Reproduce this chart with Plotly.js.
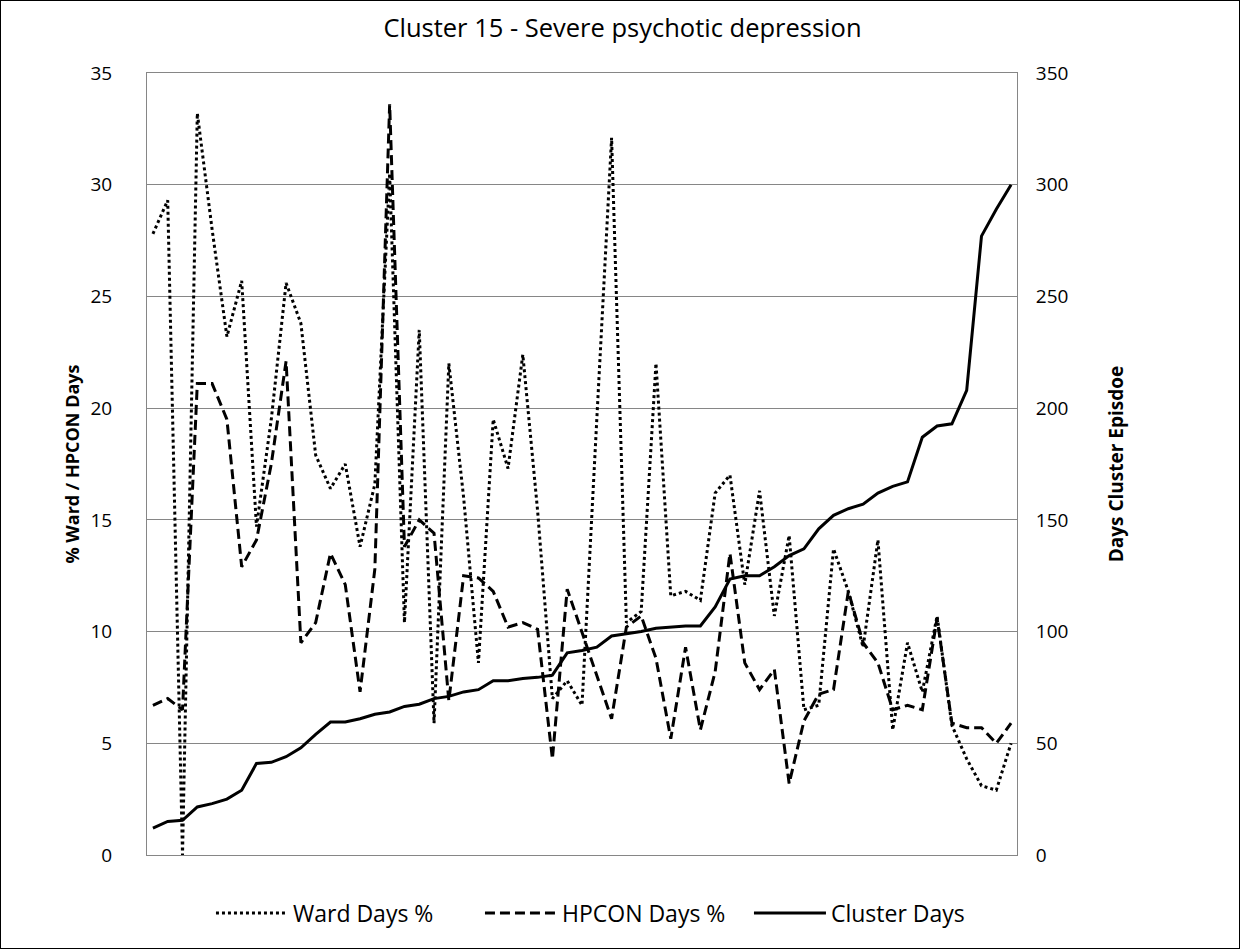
<!DOCTYPE html>
<html>
<head>
<meta charset="utf-8">
<script src="https://cdn.plot.ly/plotly-3.0.1.min.js"></script>
<style>
  html, body { margin: 0; padding: 0; background: #fff; }
  #chart { width: 1238px; height: 947px; border: 1px solid #000; }
</style>
</head>
<body>
<div id="chart"></div>
<script>
// Episode index (category axis, no labels shown)
const episodes = [1,2,3,4,5,6,7,8,9,10,11,12,13,14,15,16,17,18,19,20,
  21,22,23,24,25,26,27,28,29,30,31,32,33,34,35,36,37,38,39,40,
  41,42,43,44,45,46,47,48,49,50,51,52,53,54,55,56,57,58,59];

// Ward Days % (left axis)
const wardDays = [27.8, 29.3, 0, 33.2, 28.0, 23.2, 25.7, 14.7, 19.5, 25.6,
  23.8, 17.9, 16.4, 17.5, 13.8, 16.6, 30.5, 10.4, 23.5, 5.9,
  22.0, 16.0, 8.6, 19.5, 17.3, 22.4, 15.4, 7.0, 7.8, 6.7,
  19.5, 32.1, 10.4, 10.9, 22.0, 11.6, 11.8, 11.4, 16.2, 17.0,
  12.1, 16.3, 10.7, 14.3, 6.5, 6.7, 13.7, 11.8, 9.3, 14.1,
  5.6, 9.5, 7.3, 10.7, 5.8, 4.3, 3.1, 2.9, 5.0];

// HPCON Days % (left axis)
const hpconDays = [6.7, 7.0, 6.5, 21.1, 21.1, 19.5, 12.9, 14.1, 17.5, 22.1,
  9.5, 10.4, 13.5, 12.1, 7.3, 12.8, 33.6, 13.8, 15.0, 14.4,
  6.9, 12.5, 12.4, 11.8, 10.2, 10.4, 10.1, 4.3, 11.9, 10.0,
  8.1, 6.1, 10.2, 10.7, 8.8, 5.2, 9.3, 5.6, 8.2, 13.5,
  8.6, 7.4, 8.3, 3.2, 6.0, 7.2, 7.4, 11.8, 9.5, 8.6,
  6.5, 6.7, 6.5, 10.6, 5.9, 5.7, 5.7, 5.0, 5.9];

// Cluster Days (right axis)
const clusterDays = [12, 15, 15.5, 21.5, 23, 25, 29, 41, 41.5, 44,
  48, 54, 59.5, 59.5, 61, 63, 64, 66.5, 67.5, 70,
  71, 73, 74, 78, 78, 79, 79.5, 80.5, 90.5, 91.5,
  93, 98, 99, 100, 101.5, 102, 102.5, 102.5, 111, 123.5,
  125, 125, 129, 134, 137, 146, 152, 155, 157, 162,
  165, 167, 187, 192, 193, 208, 277, 289, 300];

const leftTicks = [0, 5, 10, 15, 20, 25, 30, 35];
const rightTicks = [0, 50, 100, 150, 200, 250, 300, 350];

const FONT = "'Open Sans', 'Noto Sans', sans-serif";
const GRID = '#868686';

const traces = [
  { x: episodes, y: wardDays, name: 'Ward Days %', type: 'scatter', mode: 'lines',
    line: { color: '#000', width: 3, dash: '3px,3px' }, yaxis: 'y' },
  { x: episodes, y: hpconDays, name: 'HPCON Days %', type: 'scatter', mode: 'lines',
    line: { color: '#000', width: 3, dash: '10px,5px' }, yaxis: 'y' },
  { x: episodes, y: clusterDays, name: 'Cluster Days', type: 'scatter', mode: 'lines',
    line: { color: '#000', width: 3 }, yaxis: 'y2' }
];

const layout = {
  width: 1238, height: 947,
  margin: { l: 146, r: 222, t: 72, b: 93, pad: 0 },
  paper_bgcolor: '#fff', plot_bgcolor: '#fff',
  font: { family: FONT, size: 18, color: '#000' },
  showlegend: true,
  title: { text: 'Cluster 15 - Severe psychotic depression', font: { family: FONT, size: 25.5, color: '#000' },
    x: 0.502, xref: 'container', xanchor: 'center', y: 0.971, yref: 'container', yanchor: 'middle' },
  xaxis: { range: [0.6, 59.4], showticklabels: false, showgrid: false, zeroline: false,
    showline: true, mirror: true, linecolor: GRID, linewidth: 1, ticks: '', fixedrange: true },
  yaxis: { range: [0, 35], tickvals: leftTicks, ticktext: leftTicks.map(String), showgrid: true, gridcolor: GRID, gridwidth: 1,
    zeroline: false, showline: true, linecolor: GRID, linewidth: 1, ticks: '',
    ticklabelstandoff: 30, tickfont: { family: FONT, size: 19, color: '#000' },
    title: { text: '<b>% Ward / HPCON Days</b>', font: { family: FONT, size: 18, color: '#000' }, standoff: 6 } },
  yaxis2: { range: [0, 350], tickvals: rightTicks, ticktext: rightTicks.map(String), overlaying: 'y', side: 'right',
    showgrid: false, zeroline: false, showline: true, linecolor: GRID, linewidth: 1, ticks: '',
    ticklabelstandoff: 14, tickfont: { family: FONT, size: 19, color: '#000' },
    title: { text: '<b>Days Cluster Episdoe</b>', font: { family: FONT, size: 19, color: '#000' }, standoff: 42 } },
  legend: { orientation: 'h', xref: 'container', x: 0.1696, xanchor: 'left',
    yref: 'container', y: 0.037, yanchor: 'middle',
    font: { family: FONT, size: 23, color: '#000' }, bgcolor: 'rgba(0,0,0,0)',
    itemwidth: 72, entrywidth: 182, entrywidthmode: 'pixels' }
};

Plotly.newPlot('chart', traces, layout, { displayModeBar: false, staticPlot: true });
</script>
</body>
</html>
